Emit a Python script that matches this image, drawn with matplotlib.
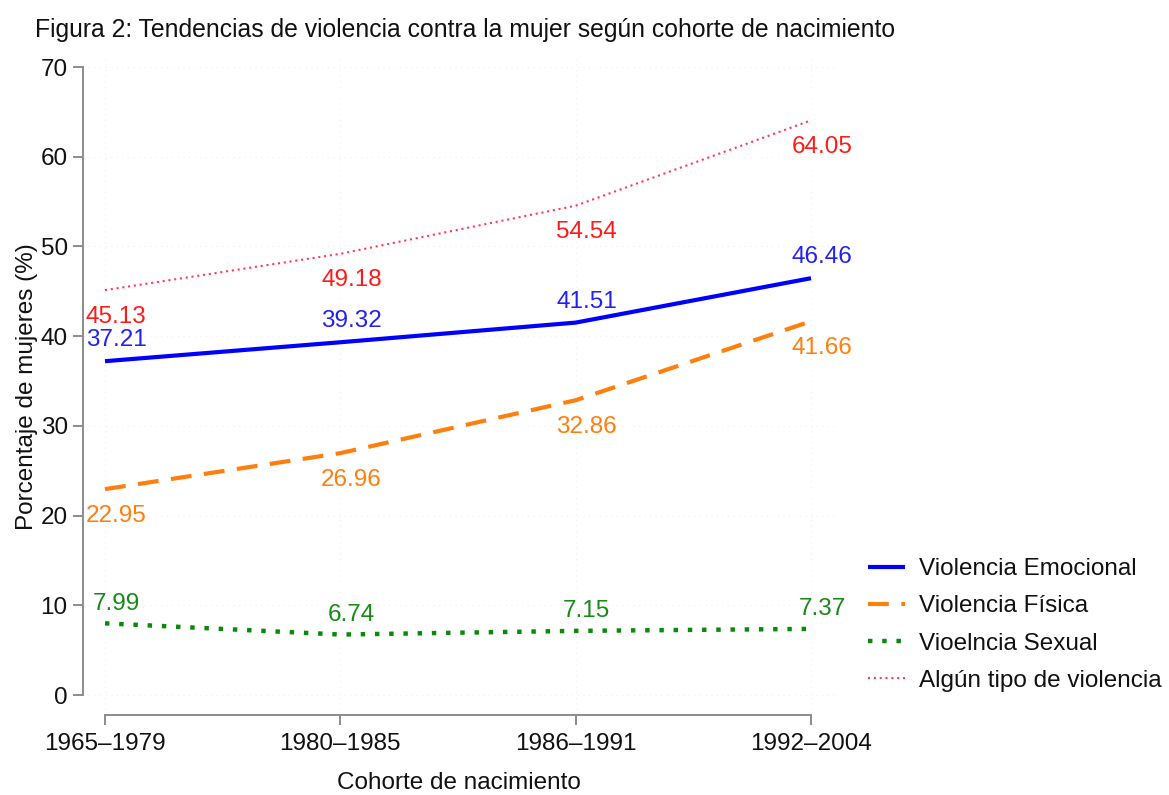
import numpy as np
import matplotlib
matplotlib.use("Agg")
import matplotlib.pyplot as plt

plt.rcParams['font.family'] = ['Liberation Sans', 'DejaVu Sans']

cohortes = ["1965–1979", "1980–1985", "1986–1991", "1992–2004"]
emocional = [37.21, 39.32, 41.51, 46.46]
fisica = [22.95, 26.96, 32.86, 41.66]
sexual = [7.99, 6.74, 7.15, 7.37]
alguna = [45.13, 49.18, 54.54, 64.05]
yticks = [0, 10, 20, 30, 40, 50, 60, 70]

x = np.arange(len(cohortes))

fig = plt.figure(figsize=(11.69, 7.95), dpi=100)
ax = fig.add_axes([0.0710, 0.1006, 0.6429, 0.8264])

# series: (valores, etiqueta, color linea, color texto, estilo, ancho, offset etiqueta)
series = [
    (emocional, "Violencia Emocional", "#0000ff", "#2222ee", "-", 3.0, 15),
    (fisica, "Violencia Física", "#ff7f0e", "#ff7f0e", (0, (5, 3)), 3.0, -19),
    (sexual, "Vioelncia Sexual", "#0a8a0a", "#178a17", (0, (1, 2.2)), 3.2, 14),
    (alguna, "Algún tipo de violencia", "#ff3a5a", "#ff1a1a", (0, (1, 1.8)), 1.5, -19),
]

for vals, lab, col, tcol, ls, lw, dy in series:
    ax.plot(x, vals, color=col, linestyle=ls, linewidth=lw, label=lab,
            dash_capstyle="butt", solid_capstyle="butt")
    for xi, v in zip(x, vals):
        ax.annotate(f"{v:.2f}", (xi, v), xytext=(8, dy), textcoords="offset points",
                    ha="center", va="center", fontsize=17.5, color=tcol)

ax.set_xlim(-0.0935, 3.1)
ax.set_ylim(-2.23, 71)
ax.set_xticks(x)
ax.set_xticklabels(cohortes)
ax.set_yticks(yticks)

# rejilla muy tenue
for yt in yticks:
    ax.axhline(yt, color="#f0f0f0", linewidth=0.8, linestyle=(0, (1, 4)), zorder=0)
for xi in x:
    ax.axvline(xi, color="#f0f0f0", linewidth=0.8, linestyle=(0, (1, 4)), zorder=0)

for s in ["top", "right"]:
    ax.spines[s].set_visible(False)
ax.spines["left"].set_bounds(0, 70)
ax.spines["bottom"].set_bounds(0, 3)
for s in ["left", "bottom"]:
    ax.spines[s].set_color("#8c8c8c")
    ax.spines[s].set_linewidth(1.4)
ax.tick_params(axis="both", colors="#8c8c8c", length=7, width=1.4,
               labelsize=17.5, labelcolor="#111111")
ax.tick_params(axis="y", pad=4)
ax.tick_params(axis="x", pad=6)

ax.set_ylabel("Porcentaje de mujeres (%)", fontsize=17.5, color="#111111", labelpad=2)
ax.set_xlabel("Cohorte de nacimiento", fontsize=17.5, color="#111111", labelpad=12)

fig.text(0.030, 0.962, "Figura 2: Tendencias de violencia contra la mujer según cohorte de nacimiento",
         fontsize=17.8, color="#111111", ha="left", va="center")

leg = ax.legend(loc="center left", bbox_to_anchor=(1.015, 0.137), frameon=False,
                fontsize=17.5, handlelength=1.55, handletextpad=0.58, labelspacing=0.62)
for t in leg.get_texts():
    t.set_color("#111111")

fig.savefig("out.png", dpi=100)
